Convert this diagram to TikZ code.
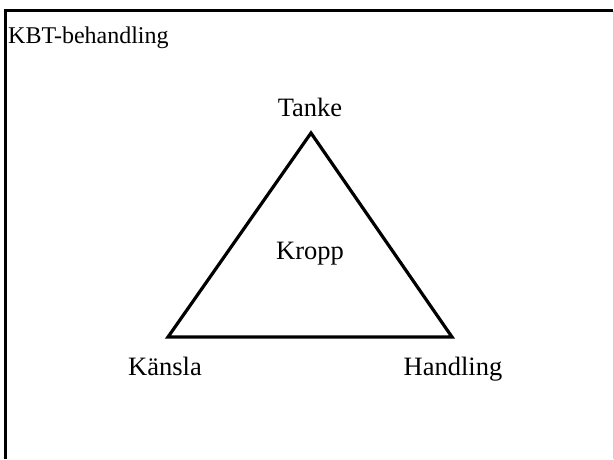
\documentclass[tikz,border=0pt]{standalone}
\usepackage{fontspec}
\setmainfont{Liberation Serif}
\begin{document}
\begin{tikzpicture}[x=1pt,y=1pt,
  lbl/.style={inner sep=0pt,anchor=base,font=\fontsize{26.5}{31}\selectfont},
  ttl/.style={inner sep=0pt,anchor=base west,font=\fontsize{24}{29}\selectfont},
  tri/.style={line width=3.2pt,line join=miter}]
\useasboundingbox (0,0) rectangle (614,459);
% frame
\draw[line width=2.5pt] (5.5,0) -- (5.5,448.7) -- (613,448.7);
\draw[line width=1pt,black!18] (613,0) -- (613,447.5);
\node[ttl] (title) at (8,415) {KBT-behandling};
% triangle
\coordinate (A) at (311,326);
\coordinate (B) at (168,122);
\coordinate (C) at (452,122);
\draw[tri] (A) -- (C) -- (B) -- cycle;
\node[lbl] (tanke) at (310,342) {Tanke};
\node[lbl] (kropp) at (310,200) {Kropp};
\node[lbl] (kansla) at (165,84) {Känsla};
\node[lbl] (handling) at (453,84) {Handling};
\end{tikzpicture}
\end{document}
